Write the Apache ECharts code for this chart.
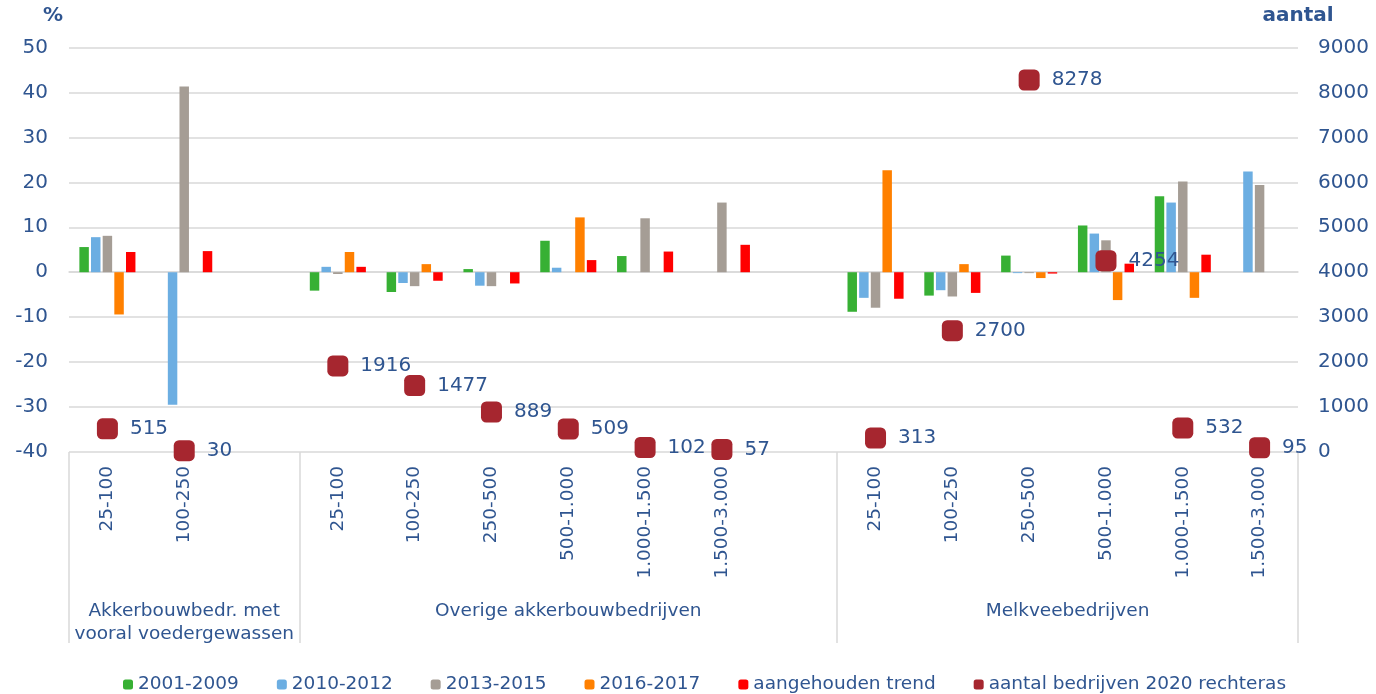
<!DOCTYPE html>
<html>
<head>
<meta charset="utf-8">
<script src="https://cdn.jsdelivr.net/npm/echarts@6/dist/echarts.min.js"></script>
<style>
html, body { margin: 0; padding: 0; background: #fff; }
#chart { width: 1376px; height: 694px; }
</style>
</head>
<body>
<div id="chart"></div>
<script>
// categorieen, met een lege plek tussen de groepen
var categories = ['25-100', '100-250', '',
  '25-100', '100-250', '250-500', '500-1.000', '1.000-1.500', '1.500-3.000', '',
  '25-100', '100-250', '250-500', '500-1.000', '1.000-1.500', '1.500-3.000']
var groups = ['Akkerbouwbedr. met\nvooral voedergewassen', 'Overige akkerbouwbedrijven', 'Melkveebedrijven']
var groupSizes = [3, 7, 6]

// % (linkeras)
var v2001_2009 = [5.6, null, null, -4.1, -4.4, 0.7, 7.0, 3.6, null, null, -8.8, -5.2, 3.7, 10.4, 16.9, null]
var v2010_2012 = [7.8, -29.5, null, 1.2, -2.4, -3.0, 1.0, null, null, null, -5.7, -4.0, -0.2, 8.6, 15.5, 22.4]
var v2013_2015 = [8.1, 41.3, null, -0.4, -3.1, -3.1, null, 12.0, 15.5, null, -7.9, -5.4, -0.2, 7.1, 20.2, 19.4]
var v2016_2017 = [-9.4, null, null, 4.5, 1.8, null, 12.2, null, null, null, 22.7, 1.8, -1.3, -6.2, -5.7, null]
var trend = [4.5, 4.7, null, 1.2, -1.9, -2.5, 2.7, 4.6, 6.1, null, -5.9, -4.6, -0.3, 1.9, 3.9, null]
// aantal (rechteras)
var aantal2020 = [515, 30, null, 1916, 1477, 889, 509, 102, 57, null, 313, 2700, 8278, 4254, 532, 95]

var textColor = '#2f5590'
var gridColor = '#d9d9d9'
var font = 'DejaVu Sans'

// grenzen en midden van de groepen op de tweede x-as
var bounds = [0]
groupSizes.forEach(function (n) { bounds.push(bounds[bounds.length - 1] + n) })
var groupCenters = groups.map(function (g, i) { return (bounds[i] + bounds[i + 1]) / 2 })

function barSeries(name, data, color) {
  return {
    name: name,
    type: 'bar',
    data: data,
    xAxisIndex: 0,
    yAxisIndex: 0,
    barGap: '23%',
    barCategoryGap: '27%',
    itemStyle: { color: color }
  }
}

var chart = echarts.init(document.getElementById('chart'))
chart.setOption({
  animation: false,
  textStyle: { fontFamily: font },
  grid: { left: 69, right: 78, top: 47.5, bottom: 242 },
  legend: {
    bottom: -5,
    left: 118,
    itemWidth: 10,
    itemHeight: 10,
    itemGap: 38,
    textStyle: { fontSize: 18.5, color: textColor, fontFamily: font },
    data: ['2001-2009', '2010-2012', '2013-2015', '2016-2017', 'aangehouden trend',
      { name: 'aantal bedrijven 2020 rechteras', itemStyle: { opacity: 1 } }]
  },
  xAxis: [
    {
      type: 'category',
      data: categories,
      axisLine: { lineStyle: { color: gridColor, width: 1.5 } },
      axisTick: { show: false },
      axisLabel: { rotate: 90, interval: 0, margin: 14, fontSize: 18.5, color: textColor, fontFamily: font }
    },
    {
      type: 'value',
      min: 0,
      max: bounds[bounds.length - 1],
      position: 'bottom',
      axisLine: { show: false },
      splitLine: { show: false },
      axisTick: { show: true, customValues: bounds, length: 191, lineStyle: { color: gridColor, width: 1.5 } },
      axisLabel: {
        customValues: groupCenters,
        margin: 148,
        fontSize: 18.5,
        lineHeight: 23,
        color: textColor,
        fontFamily: font,
        formatter: function (v) {
          var i = groupCenters.indexOf(v)
          return i >= 0 ? groups[i] : ''
        }
      }
    }
  ],
  yAxis: [
    {
      type: 'value',
      name: '%',
      nameGap: 22,
      nameTextStyle: { fontSize: 20, fontWeight: 'bold', color: textColor, align: 'right', padding: [0, 6, 0, 0], fontFamily: font },
      min: -40,
      max: 50,
      interval: 10,
      axisLine: { show: false },
      axisTick: { show: false },
      splitLine: { lineStyle: { color: gridColor, width: 1.5 } },
      axisLabel: { fontSize: 20, margin: 21, color: textColor, fontFamily: font }
    },
    {
      type: 'value',
      name: 'aantal',
      nameGap: 22,
      nameTextStyle: { fontSize: 20, fontWeight: 'bold', color: textColor, fontFamily: font },
      min: 0,
      max: 9000,
      interval: 1000,
      axisLine: { show: false },
      axisTick: { show: false },
      splitLine: { show: false },
      axisLabel: {
        fontSize: 20, margin: 20, color: textColor, fontFamily: font,
        formatter: function (v) { return String(v) }
      }
    }
  ],
  series: [
    barSeries('2001-2009', v2001_2009, '#37b034'),
    barSeries('2010-2012', v2010_2012, '#6caee2'),
    barSeries('2013-2015', v2013_2015, '#a59d95'),
    barSeries('2016-2017', v2016_2017, '#ff8000'),
    barSeries('aangehouden trend', trend, '#ff0000'),
    {
      name: 'aantal bedrijven 2020 rechteras',
      type: 'scatter',
      data: aantal2020,
      xAxisIndex: 0,
      yAxisIndex: 1,
      symbol: 'roundRect',
      symbolSize: 21,
      z: 5,
      itemStyle: { color: '#a6262f', opacity: 1 },
      label: { show: true, position: 'right', distance: 12, fontSize: 20, color: textColor, fontFamily: font }
    }
  ]
})
</script>
</body>
</html>
